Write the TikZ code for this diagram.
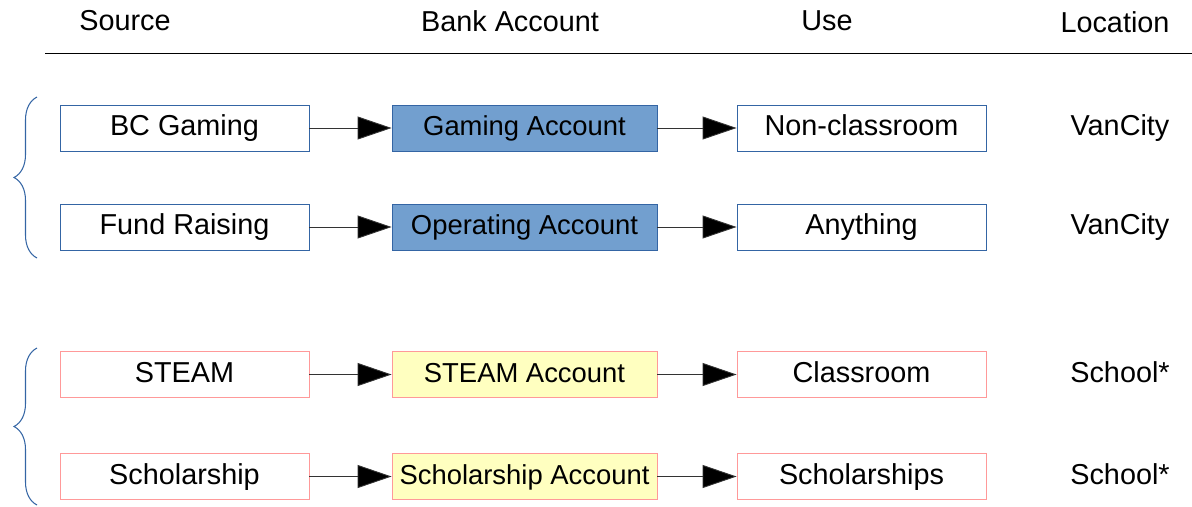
\documentclass[tikz,border=0pt]{standalone}
\usepackage{fontspec}
\setmainfont{Liberation Sans}
\usepackage{xcolor}
\usepackage{tikz}
\usetikzlibrary{shapes,arrows,positioning,calc,decorations.pathreplacing,arrows.meta}

\definecolor{lineblue}{HTML}{3465A4}
\definecolor{fillblue}{HTML}{729FCF}
\definecolor{linepink}{HTML}{FF9999}
\definecolor{fillyellow}{HTML}{FFFFC0}

\tikzset{
    txt/.style={text height=12pt, text depth=3pt, inner sep=0pt},
    srcbox/.style={txt, draw=lineblue, line width=0.5pt, minimum width=4.98cm, minimum height=0.92cm},
    acctbox/.style={srcbox, minimum width=5.3cm, font=\fontsize{15.6}{18}\selectfont},
    flow/.style={line width=0.5pt, draw=black!80, -{Triangle[length=0.68cm, width=0.46cm, fill=black]}},
    hdr/.style={font=\fontsize{16.4}{19}\selectfont},
    grp/.style={draw=lineblue, line width=0.6pt, decorate, decoration={brace, amplitude=0.46cm}}
}

\begin{document}
\begin{tikzpicture}[font=\fontsize{16.4}{19}\selectfont]
    \useasboundingbox (0,0) rectangle (23.84,-10.12);
    % headings
    \node[hdr] (hsrc) at (2.5,-0.42) {Source};
    \node[hdr] (hacct) at (10.2,-0.42) {Bank Account};
    \node[hdr] (huse) at (16.54,-0.42) {Use};
    \node[hdr] (hloc) at (22.3,-0.44) {Location};
    \coordinate (rl) at (0.9,-1.06);
    \coordinate (rr) at (23.84,-1.06);
    \draw[line width=0.5pt] (rl) -- (rr);
    % gaming
    \node[srcbox] (gsrc) at (3.69,-2.56) {BC Gaming};
    \node[acctbox, fill=fillblue] (gacct) at (10.49,-2.56) {Gaming Account};
    \node[srcbox] (guse) at (17.23,-2.56) {Non-classroom};
    \node[txt] (gloc) at (22.4,-2.56) {VanCity};
    \draw[flow] (gsrc) -- (gacct);
    \draw[flow] (gacct) -- (guse);
    % fund raising
    \node[srcbox] (fsrc) at (3.69,-4.54) {Fund Raising};
    \node[acctbox, fill=fillblue] (facct) at (10.49,-4.54) {Operating Account};
    \node[srcbox] (fuse) at (17.23,-4.54) {Anything};
    \node[txt] (floc) at (22.4,-4.54) {VanCity};
    \draw[flow] (fsrc) -- (facct);
    \draw[flow] (facct) -- (fuse);
    % steam
    \node[srcbox, draw=linepink] (ssrc) at (3.69,-7.49) {STEAM};
    \node[acctbox, draw=linepink, fill=fillyellow] (sacct) at (10.49,-7.49) {STEAM Account};
    \node[srcbox, draw=linepink] (suse) at (17.23,-7.49) {Classroom};
    \node[txt] (sloc) at (22.4,-7.49) {School*};
    \draw[flow] (ssrc) -- (sacct);
    \draw[flow] (sacct) -- (suse);
    % scholarship
    \node[srcbox, draw=linepink] (csrc) at (3.69,-9.53) {Scholarship};
    \node[acctbox, draw=linepink, fill=fillyellow] (cacct) at (10.49,-9.53) {Scholarship Account};
    \node[srcbox, draw=linepink] (cuse) at (17.23,-9.53) {Scholarships};
    \node[txt] (cloc) at (22.4,-9.53) {School*};
    \draw[flow] (csrc) -- (cacct);
    \draw[flow] (cacct) -- (cuse);
    % braces
    \coordinate (b1t) at (0.74,-1.94);
    \coordinate (b1b) at (0.74,-5.16);
    \coordinate (b2t) at (0.74,-6.96);
    \coordinate (b2b) at (0.74,-10.1);
    \draw[grp] (b1b) -- (b1t);
    \draw[grp] (b2b) -- (b2t);
\end{tikzpicture}
\end{document}
